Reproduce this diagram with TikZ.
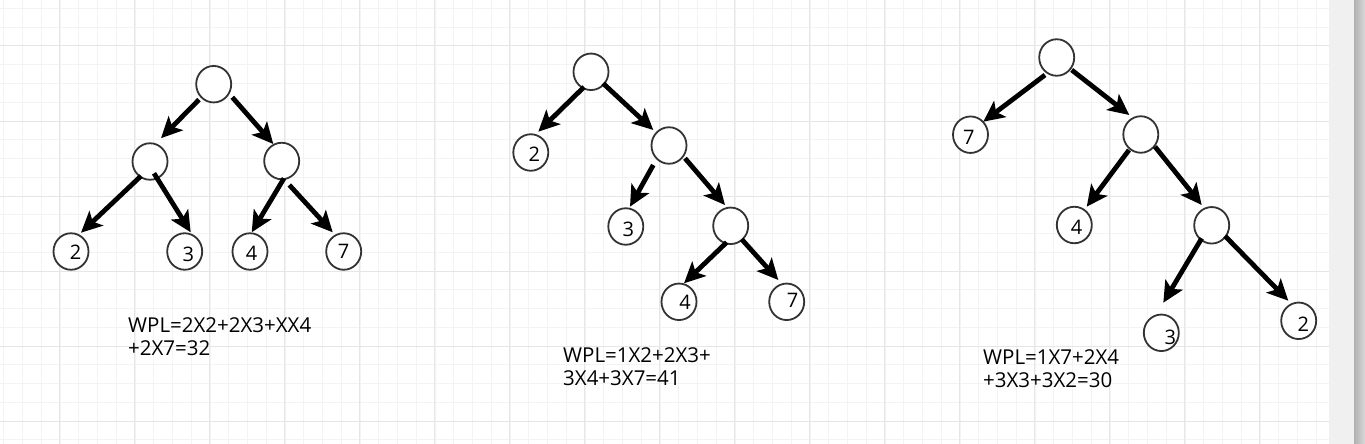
\documentclass[tikz,border=0pt]{standalone}
\usepackage{fontspec}
\setmainfont{Open Sans}
\usetikzlibrary{arrows.meta,shapes.geometric}
\definecolor{gminor}{HTML}{F3F3F3}
\definecolor{gmajor}{HTML}{E6E6E6}
\definecolor{nodegray}{HTML}{333333}
\definecolor{panel}{HTML}{F0F0F0}
\definecolor{sbdark}{HTML}{B0B0B0}
\definecolor{sblight}{HTML}{DADADA}
\begin{document}
\begin{tikzpicture}[x=1pt,y=-1pt,
  tnode/.style={ellipse,draw=nodegray,line width=1.8pt,fill=white,minimum width=35pt,minimum height=36.5pt,inner sep=0pt},
  dg/.style={font=\fontsize{20}{23}\selectfont,inner sep=0pt},
  edge/.style={line width=4.8pt,-{Stealth[length=21pt,width=20pt,inset=5pt]}},
  wpl/.style={font=\fontsize{20.5}{23}\selectfont,align=left,anchor=base west,inner sep=0pt},
  minorline/.style={draw=gminor,line width=1pt},
  majorline/.style={draw=gmajor,line width=1pt}]
\useasboundingbox (0,0) rectangle (1365,444);
\fill[white] (0,0) rectangle (1365,444);
% grid
\foreach \i in {0,...,70} {\draw[minorline] ({3.75+18.75*\i},0) -- ({3.75+18.75*\i},444);}
\foreach \j in {0,...,23} {\draw[minorline] (0,{8.5+18.75*\j}) -- (1328.5,{8.5+18.75*\j});}
\foreach \i in {0,...,16} {\draw[majorline] ({59.5+75*\i},0) -- ({59.5+75*\i},444);}
\foreach \j in {0,...,5} {\draw[majorline] (0,{46+75*\j}) -- (1328.5,{46+75*\j});}
% right panel and scrollbar
\fill[panel] (1328.5,0) rectangle (1354,444);
\shade[left color=sbdark,right color=sblight] (1354,0) rectangle (1365,444);

% ---------- tree 1 ----------
\node[tnode] (R1) at (213.7,84.2) {};
\node[tnode] (L1) at (150,161.5) {};
\node[tnode] (Q1) at (281.7,161) {};
\node[tnode,label={[dg,xshift=4.5pt,yshift=-1pt]center:2}] (a1) at (71,251.5) {};
\node[tnode,label={[dg,xshift=3.6pt,yshift=-3pt]center:3}] (b1) at (184.7,251.5) {};
\node[tnode,label={[dg,xshift=1.7pt,yshift=-2pt]center:4}] (c1) at (250,251.5) {};
\node[tnode,label={[dg,xshift=0pt,yshift=0pt]center:7}] (d1) at (343.7,251.5) {};
\draw[edge] ([shift={(-14.7,15.4)}]R1.center) -- ([shift={(11,-23.3)}]L1.center);
\draw[edge] ([shift={(18.6,13.1)}]R1.center) -- ([shift={(-8.4,-17)}]Q1.center);
\draw[edge] ([shift={(-9,14.5)}]L1.center) -- ([shift={(10,-18.8)}]a1.center);
\draw[edge] ([shift={(4,11.8)}]L1.center) -- ([shift={(6,-19.2)}]b1.center);
\draw[edge] ([shift={(2.3,17.3)}]Q1.center) -- ([shift={(1.7,-19.2)}]c1.center);
\draw[edge] ([shift={(7.6,24)}]Q1.center) -- ([shift={(-11,-19.2)}]d1.center);
\node[wpl] (t1) at (128,355) {WPL=2X2+2X3+XX4\\+2X7=32};

% ---------- tree 2 ----------
\node[tnode] (R2) at (591,71.8) {};
\node[tnode,label={[dg,xshift=3.5pt,yshift=-2.2pt]center:2}] (T2) at (530.8,152.5) {};
\node[tnode] (M2) at (669,145.5) {};
\node[tnode,label={[dg,xshift=2.5pt,yshift=-2.7pt]center:3}] (U2) at (625.8,226.5) {};
\node[tnode] (N2) at (730.7,225.8) {};
\node[tnode,label={[dg,xshift=6pt,yshift=-0.4pt]center:4}] (V2) at (679,301.8) {};
\node[tnode,label={[dg,xshift=5.8pt,yshift=1pt]center:7}] (W2) at (786.7,301.8) {};
\draw[edge] ([shift={(-7,15.2)}]R2.center) -- ([shift={(7.5,-20.8)}]T2.center);
\draw[edge] ([shift={(12,11.5)}]R2.center) -- ([shift={(-15.7,-15.5)}]M2.center);
\draw[edge] ([shift={(-15.7,19.5)}]M2.center) -- ([shift={(4.2,-19.8)}]U2.center);
\draw[edge] ([shift={(16,12.8)}]M2.center) -- ([shift={(-5.7,-20.8)}]N2.center);
\draw[edge] ([shift={(-4,16.5)}]N2.center) -- ([shift={(5,-18.5)}]V2.center);
\draw[edge] ([shift={(11,13.5)}]N2.center) -- ([shift={(-8.4,-21.8)}]W2.center);
\node[wpl] (t2) at (563,385) {WPL=1X2+2X3+\\3X4+3X7=41};

% ---------- tree 3 ----------
\node[tnode] (R3) at (1056.7,57.5) {};
\node[tnode,label={[dg,xshift=-1.7pt,yshift=-2.8pt]center:7}] (S3) at (970.5,134.7) {};
\node[tnode] (M3) at (1140.8,134.5) {};
\node[tnode,label={[dg,xshift=2.4pt,yshift=-2.8pt]center:4}] (F3) at (1074.3,225) {};
\node[tnode] (N3) at (1211.7,225.3) {};
\node[tnode,label={[dg,xshift=9pt,yshift=-4.4pt]center:3}] (T3) at (1161.3,332.8) {};
\node[tnode,label={[dg,xshift=4.6pt,yshift=-3.4pt]center:2}] (W3) at (1298.7,320.8) {};
\draw[edge] ([shift={(-11.7,17.5)}]R3.center) -- ([shift={(12.8,-13)}]S3.center);
\draw[edge] ([shift={(15,12.5)}]R3.center) -- ([shift={(-11.5,-19.5)}]M3.center);
\draw[edge] ([shift={(-11.8,15.5)}]M3.center) -- ([shift={(12.4,-18.3)}]F3.center);
\draw[edge] ([shift={(14.2,12.2)}]M3.center) -- ([shift={(-10,-20.3)}]N3.center);
\draw[edge] ([shift={(-10,13)}]N3.center) -- ([shift={(2,-30.1)}]T3.center);
\draw[edge] ([shift={(13.3,10.7)}]N3.center) -- ([shift={(-10.4,-20.1)}]W3.center);
\node[wpl] (t3) at (983,387) {WPL=1X7+2X4\\+3X3+3X2=30};
\end{tikzpicture}
\end{document}
